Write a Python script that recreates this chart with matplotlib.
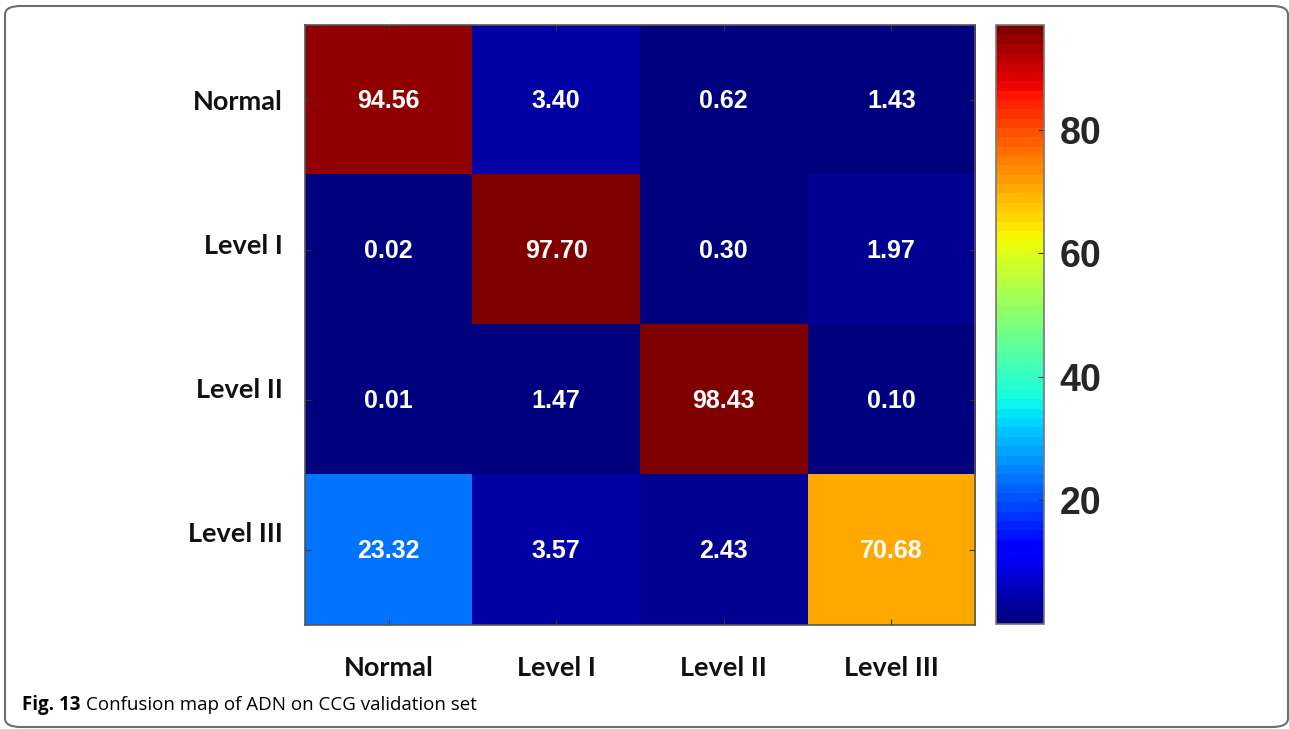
import numpy as np
import matplotlib
matplotlib.use('Agg')
import matplotlib.pyplot as plt
from matplotlib.patches import FancyBboxPatch
from matplotlib.colors import Normalize
from matplotlib.transforms import ScaledTranslation

# confusion map (percent), rows = true class, cols = predicted class
classes = ['Normal', 'Level I', 'Level II', 'Level III']
row_normal = [94.56, 3.40, 0.62, 1.43]
row_level1 = [0.02, 97.70, 0.30, 1.97]
row_level2 = [0.01, 1.47, 98.43, 0.10]
row_level3 = [23.32, 3.57, 2.43, 70.68]
cbar_ticks = [20, 40, 60, 80]

conf = np.array([row_normal, row_level1, row_level2, row_level3])

fig = plt.figure(figsize=(12.89, 7.29), dpi=100)
W, H = 1289, 729

def box(x0, y0, x1, y1):
    # pixel box (top-left origin) -> figure fraction rect
    return [x0 / W, 1 - y1 / H, (x1 - x0) / W, (y1 - y0) / H]

# outer frame of the figure panel
frame = FancyBboxPatch((5 / W, 2 / H), 1283 / W, 721 / H,
                       boxstyle='round,pad=0,rounding_size=0.012',
                       transform=fig.transFigure, fill=False,
                       edgecolor='#6e6e6e', linewidth=1.5)
fig.patches.append(frame)

ax = fig.add_axes(box(305, 25, 975, 625))
cmap = plt.get_cmap('jet', 64)
norm = Normalize(vmin=0, vmax=97)
im = ax.imshow(conf, cmap=cmap, norm=norm, aspect='auto', interpolation='nearest')

for i in range(conf.shape[0]):
    for j in range(conf.shape[1]):
        ax.text(j, i + 0.01, '%.2f' % conf[i, j], ha='center', va='center',
                color='white', fontsize=18, fontweight='bold',
                family='Liberation Sans')

lab_font = dict(fontsize=19.5, fontweight='bold', family='Lato', color='#111111')
ax.set_xticks(range(len(classes)))
ax.set_yticks(range(len(classes)))
ax.set_xticklabels(classes, **lab_font)
ax.set_yticklabels(classes, **lab_font)
ax.tick_params(direction='in', length=4, color='#333333', top=True, right=True)
ax.tick_params(axis='x', pad=22)
ax.tick_params(axis='y', pad=16)

# row labels sit a little above their ticks
for k, lab in enumerate(ax.get_yticklabels()):
    lab.set_transform(lab.get_transform() + ScaledTranslation(0, k * 6 / 100, fig.dpi_scale_trans))

for s in ax.spines.values():
    s.set_color('#555555')
    s.set_linewidth(1.2)

cax = fig.add_axes(box(996, 25, 1044, 624))
cb = fig.colorbar(im, cax=cax, ticks=cbar_ticks)
cb.outline.set_edgecolor('#777777')
cb.outline.set_linewidth(1.2)
cax.tick_params(direction='in', length=4, color='#333333', pad=11)
for lab in cax.get_yticklabels():
    lab.set_fontsize(27)
    lab.set_fontweight('bold')
    lab.set_family('Liberation Sans')
    lab.set_color('#262626')

# caption: bold figure number followed by regular text
renderer = fig.canvas.get_renderer()
t1 = fig.text(22 / W, 1 - 705 / H, 'Fig. 13', fontsize=13.5, fontweight='bold',
              family='Open Sans', va='center', ha='left')
x_end = t1.get_window_extent(renderer).x1
fig.text((x_end + 6) / W, 1 - 705 / H, 'Confusion map of ADN on CCG validation set',
         fontsize=13.5, family='Open Sans', va='center', ha='left')

fig.savefig('out.png', dpi=100)
